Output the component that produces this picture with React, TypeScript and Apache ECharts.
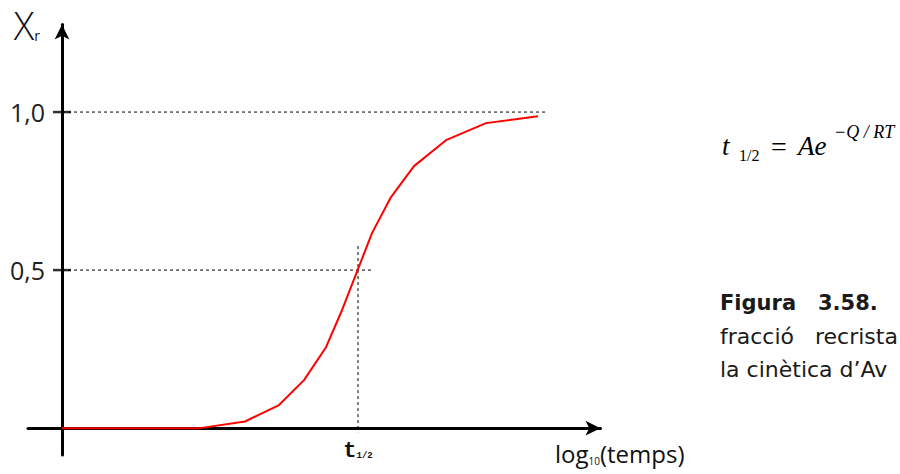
import React, { useEffect, useRef } from "react";
import * as echarts from "echarts";

// ---- data ----
const CURVE_X = [0, 1.38, 1.83, 2.17, 2.42, 2.64, 2.8, 3.1, 3.29, 3.52, 3.84, 4.24, 4.76];
const CURVE_Y = [0, 0, 0.021, 0.073, 0.152, 0.256, 0.373, 0.617, 0.731, 0.829, 0.911, 0.965, 0.987];

const Y_TICK_VALUES = [0.5, 1];
const Y_TICK_LABELS = ["0,5", "1,0"];

const T_HALF = 2.96;
const T_HALF_TOP = 0.576;
const T_HALF_BOTTOM = -0.013;
const GUIDE_1_END = 4.83;
const GUIDE_05_END = 3.1;

const X_MIN = -0.34;
const X_MAX = 5.385;
const Y_MIN = -0.085;
const Y_MAX = 1.277;

const FORMULA_T = "t";
const FORMULA_SUB = "1/2";
const FORMULA_EQ = "=";
const FORMULA_AE = "Ae";
const FORMULA_SUP = "−Q / RT";

const CAPTION_LINES = ["Figura   3.58.", "fracció   recrista", "la cinètica d’Av"];

const LIGHT_FONT = "'Open Sans', 'DejaVu Sans', sans-serif";

export default function App() {
  const ref = useRef<HTMLDivElement>(null);

  useEffect(() => {
    if (!ref.current) return;
    const chart = echarts.init(ref.current, undefined, { renderer: "svg" });

    const curve = CURVE_X.map((x, i) => [x, CURVE_Y[i]]);
    const dotted = { color: "#000", width: 1, type: [3, 3] as any };

    chart.setOption({
      animation: false,
      backgroundColor: "#ffffff",
      grid: {
        left: 28,
        right: 299.5,
        top: 24.5,
        bottom: 19,
        containLabel: false,
        outerBoundsMode: "none",
      },
      xAxis: {
        type: "value",
        min: X_MIN,
        max: X_MAX,
        splitLine: { show: false },
        axisTick: { show: false },
        axisLine: {
          show: true,
          onZero: true,
          symbol: ["none", "arrow"],
          symbolSize: [11, 15],
          lineStyle: { color: "#000", width: 3 },
        },
        axisLabel: {
          customValues: [T_HALF],
          margin: -15,
          formatter: () => "{t|t}{s|1/2}",
          rich: {
            t: { fontFamily: "'Liberation Mono', monospace", fontWeight: "bold", fontSize: 22, color: "#111" },
            s: { fontFamily: "'Liberation Mono', monospace", fontWeight: "bold", fontSize: 9, color: "#111", padding: [10, 0, 0, 0] },
          },
        },
        name: "log{s|10}(temps)",
        nameLocation: "end",
        nameGap: -45.5,
        nameTextStyle: {
          fontFamily: LIGHT_FONT,
          fontWeight: 400,
          fontSize: 24,
          color: "#111",
          align: "left",
          verticalAlign: "top",
          padding: [13, 0, 0, 0],
          rich: {
            s: { fontFamily: LIGHT_FONT, fontWeight: 400, fontSize: 10, color: "#111", padding: [15, 0, 0, 0] },
          },
        },
      },
      yAxis: {
        type: "value",
        min: Y_MIN,
        max: Y_MAX,
        splitLine: { show: false },
        axisTick: { show: false },
        axisLine: {
          show: true,
          onZero: true,
          symbol: ["none", "arrow"],
          symbolSize: [11, 15],
          lineStyle: { color: "#000", width: 3 },
        },
        axisLabel: {
          customValues: Y_TICK_VALUES,
          margin: -17,
          fontFamily: LIGHT_FONT,
          fontWeight: 400,
          fontSize: 25,
          color: "#222",
          formatter: (v: number) => {
            const i = Y_TICK_VALUES.indexOf(v);
            return i >= 0 ? Y_TICK_LABELS[i] : "";
          },
        },
        name: "{x|X}{r|r}",
        nameLocation: "end",
        nameGap: 0,
        nameTextStyle: {
          align: "right",
          verticalAlign: "middle",
          padding: [0, 22, 0, 0],
          rich: {
            x: { fontFamily: LIGHT_FONT, fontWeight: 300, fontSize: 38, color: "#111" },
            r: { fontFamily: LIGHT_FONT, fontWeight: 400, fontSize: 14, color: "#111", padding: [22, 0, 0, 0] },
          },
        },
      },
      series: [
        {
          type: "line",
          data: [[0, 1], [GUIDE_1_END, 1]],
          symbol: "none",
          lineStyle: dotted,
          silent: true,
          z: 1,
        },
        {
          type: "line",
          data: [[0, 0.5], [GUIDE_05_END, 0.5]],
          symbol: "none",
          lineStyle: dotted,
          silent: true,
          z: 1,
        },
        {
          type: "line",
          data: [[T_HALF, T_HALF_TOP], [T_HALF, T_HALF_BOTTOM]],
          symbol: "none",
          lineStyle: dotted,
          silent: true,
          z: 1,
        },
        {
          type: "scatter",
          data: Y_TICK_VALUES.map((v) => [0, v]),
          symbol: "rect",
          symbolSize: [18, 2.5],
          itemStyle: { color: "#000" },
          silent: true,
          z: 3,
        },
        {
          type: "line",
          data: curve,
          symbol: "none",
          lineStyle: { color: "#ff0000", width: 2 },
          silent: true,
          z: 4,
        },
      ],
      graphic: [
        { type: "text", left: 722, top: 132, style: { text: FORMULA_T, font: "italic 27px 'Liberation Serif', serif", fill: "#000" } },
        { type: "text", left: 739, top: 147, style: { text: FORMULA_SUB, font: "16px 'Liberation Serif', serif", fill: "#000" } },
        { type: "text", left: 771, top: 132, style: { text: FORMULA_EQ, font: "28px 'Liberation Serif', serif", fill: "#000" } },
        { type: "text", left: 798, top: 132, style: { text: FORMULA_AE, font: "italic 27px 'Liberation Serif', serif", fill: "#000" } },
        { type: "text", left: 834, top: 123, style: { text: FORMULA_SUP, font: "italic 18px 'Liberation Serif', serif", fill: "#000" } },
        { type: "text", left: 720, top: 292, style: { text: CAPTION_LINES[0], font: "bold 21px 'DejaVu Sans', sans-serif", fill: "#1a1a1a" } },
        { type: "text", left: 720, top: 325, style: { text: CAPTION_LINES[1], font: "22px 'DejaVu Sans', sans-serif", fill: "#1a1a1a" } },
        { type: "text", left: 720, top: 358, style: { text: CAPTION_LINES[2], font: "22px 'DejaVu Sans', sans-serif", fill: "#1a1a1a" } },
      ],
    });

    return () => chart.dispose();
  }, []);

  return (
    <div
      ref={ref}
      style={{ position: "fixed", left: 0, top: 0, width: 900, height: 474, background: "#fff" }}
    />
  );
}
